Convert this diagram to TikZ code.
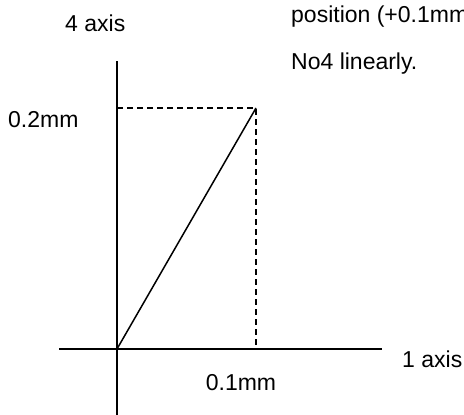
\documentclass[tikz,border=0pt]{standalone}
\usepackage{fontspec}
\setmainfont{Liberation Sans}

\begin{document}
\begin{tikzpicture}[x=1pt, y=-1pt,
    lbl/.style={font=\fontsize{23}{27}\selectfont, inner sep=0pt, anchor=base west},
    axisline/.style={line width=1.5pt},
    guide/.style={line width=1.5pt, dash pattern=on 6pt off 4pt}
  ]
    \clip (0,0) rectangle (464,415);

    \coordinate (o)    at (117,349);
    \coordinate (vtop) at (117,61);
    \coordinate (vbot) at (117,415);
    \coordinate (hl)   at (59,349);
    \coordinate (hr)   at (382,349);
    \coordinate (p)    at (256,108);
    \coordinate (pv)   at (117,108);
    \coordinate (ph)   at (256,349);

    \node[lbl] (ax4)  at (65,31)  {4 axis};
    \node[lbl] (pos)  at (291,23) {position (+0.1mm};
    \node[lbl] (no4)  at (291,70) {No4 linearly.};
    \node[lbl] (v02)  at (8,127)  {0.2mm};
    \node[lbl] (ax1)  at (402,367) {1 axis};
    \node[lbl, anchor=base] (h01) at (241,390) {0.1mm};

    \draw[axisline] (vtop) -- (vbot);
    \draw[axisline] (hl) -- (hr);
    \draw[axisline] (o) -- (p);
    \draw[guide] (pv) -- (p) -- (ph);
  \end{tikzpicture}
\end{document}
